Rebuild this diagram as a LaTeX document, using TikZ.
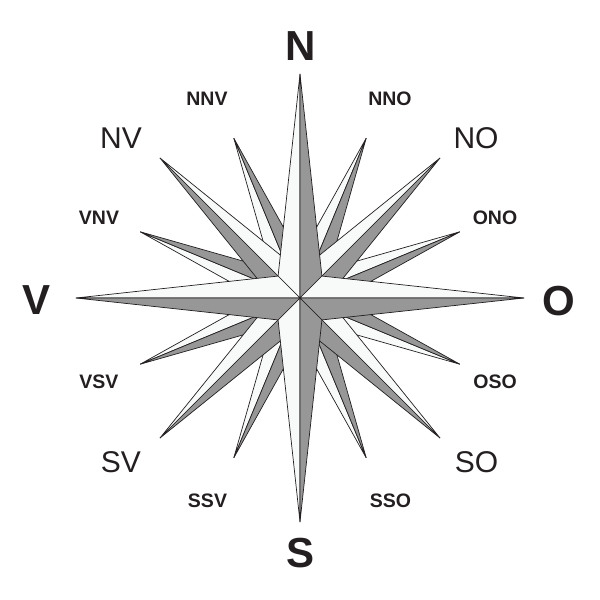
\documentclass[tikz,border=0pt]{standalone}
\usepackage{fontspec}
\setmainfont{Liberation Sans}
\usepackage{tikz}

\definecolor{rosewhite}{HTML}{F8FAFA}
\definecolor{rosegray}{HTML}{979797}
\definecolor{roseink}{HTML}{231F20}

\tikzset{
  lighthalf/.style={fill=rosewhite, draw=roseink, line width=0.7pt},
  darkhalf/.style={fill=rosegray, draw=roseink, line width=0.7pt},
  cardinal/.style={font=\fontsize{42}{42}\selectfont\bfseries, text=roseink, inner sep=0pt},
  ordinal/.style={font=\fontsize{30}{30}\selectfont, text=roseink, inner sep=0pt},
  between/.style={font=\fontsize{19.5}{19.5}\selectfont\bfseries, text=roseink, inner sep=0pt}
}

\begin{document}
\begin{tikzpicture}[x=1pt, y=1pt]
\useasboundingbox (-300,-302) rectangle (300,298);

% Sixteen-wind points (bottom layer)
\foreach \a/\s in {67.5/1, 22.5/1, -22.5/-1, -67.5/-1, 247.5/-1, 202.5/-1, 157.5/1, 112.5/1} {
  \draw[lighthalf] (0,0) -- (\a:173) -- (\a+\s*11.25:65) -- cycle;
  \draw[darkhalf] (0,0) -- (\a:173) -- (\a-\s*11.25:65) -- cycle;
}

% Intercardinal points
\foreach \a/\s in {45/1, -45/1, 225/-1, 135/-1} {
  \draw[lighthalf] (0,0) -- (\a:198) -- (\a+\s*22.5:44) -- cycle;
  \draw[darkhalf] (0,0) -- (\a:198) -- (\a-\s*22.5:44) -- cycle;
}

% Cardinal points (top layer)
\foreach \a/\s in {90/1, 0/1, 270/-1, 180/-1} {
  \draw[lighthalf] (0,0) -- (\a:224) -- (\a+\s*45:31) -- cycle;
  \draw[darkhalf] (0,0) -- (\a:224) -- (\a-\s*45:31) -- cycle;
}

% Cardinal labels
\node[cardinal] (north) at (0.5,252) {N};
\node[cardinal] (south) at (1,-255) {S};
\node[cardinal] (west) at (-263.5,-2) {V};
\node[cardinal] (east) at (259,-3) {O};

% Intercardinal labels
\node[ordinal] (northwest) at (-179,160) {NV};
\node[ordinal] (northeast) at (176,160) {NO};
\node[ordinal] (southwest) at (-179,-164) {SV};
\node[ordinal] (southeast) at (176.5,-164) {SO};

% Sixteen-wind labels
\node[between] (nnw) at (-93,199) {NNV};
\node[between] (nne) at (90,199) {NNO};
\node[between] (wnw) at (-201,80) {VNV};
\node[between] (ene) at (195,80) {ONO};
\node[between] (wsw) at (-201,-84) {VSV};
\node[between] (ese) at (195,-84) {OSO};
\node[between] (ssw) at (-92.5,-202.5) {SSV};
\node[between] (sse) at (90.5,-202.5) {SSO};
\end{tikzpicture}
\end{document}
